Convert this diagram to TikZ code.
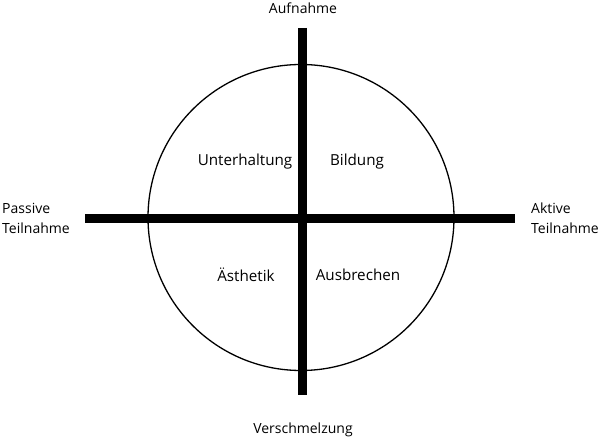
\documentclass[tikz,border=0pt]{standalone}
\usepackage{fontspec}
\setmainfont{Open Sans}
\usetikzlibrary{positioning}

\begin{document}
\begin{tikzpicture}[
        x=1pt, y=-1pt,
        font=\fontsize{14}{20}\selectfont,
        axis/.style={
            line width=9.5pt,
            draw=black
        },
        ring/.style={
            circle,
            draw=black,
            line width=1.3pt,
            minimum size=306pt,
            inner sep=0pt
        },
        quadrant/.style={
            font=\fontsize{15.2}{20}\selectfont,
            inner sep=0pt
        },
        polelabel/.style={
            align=left,
            inner sep=0pt
        }
    ]
        \useasboundingbox (0, 0) rectangle (600, 438);

        \node[ring] (circ) at (301, 217.5) {};

        % axes
        \coordinate (top) at (302.5, 28);
        \coordinate (bottom) at (302.5, 395);
        \coordinate (left) at (85, 218.5);
        \coordinate (right) at (515, 218.5);
        \draw[axis] (top) -- (bottom);
        \draw[axis] (left) -- (right);

        % poles
        \node[polelabel, anchor=center] (aufnahme) at (303, 8) {Aufnahme};
        \node[polelabel, anchor=center] (verschm) at (303, 430) {Verschmelzung};
        \node[polelabel, anchor=west] (passive) at (2, 218) {Passive\\Teilnahme};
        \node[polelabel, anchor=west] (aktive) at (531, 218) {Aktive\\Teilnahme};

        % quadrants
        \node[quadrant] (unterh) at (245, 162) {Unterhaltung};
        \node[quadrant] (bildung) at (357, 162) {Bildung};
        \node[quadrant] (aesthetik) at (246, 275) {Ästhetik};
        \node[quadrant] (ausbr) at (358, 275) {Ausbrechen};
\end{tikzpicture}
\end{document}
